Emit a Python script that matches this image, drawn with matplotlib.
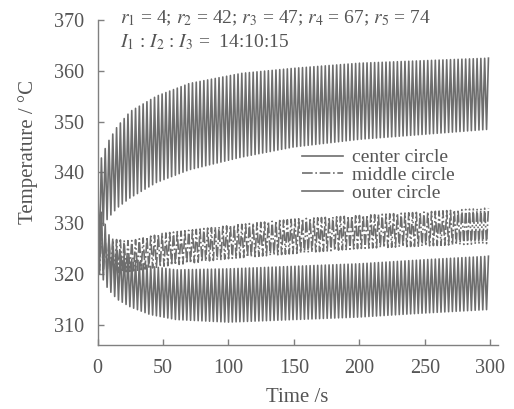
import numpy as np
import matplotlib
matplotlib.use("Agg")
import matplotlib.pyplot as plt

# ---- data (envelopes) ----
period = 2.9  # s, oscillation period

t_center = [0, 3, 8, 15, 25, 45, 70, 110, 150, 200, 250, 300]
center_upper = [338, 343, 346, 349, 352, 355, 357.5, 359.5, 360.5, 361.5, 362, 362.5]
center_lower = [321, 329, 331, 333, 335, 338, 340.5, 343, 345, 346.5, 347.5, 348.5]

t_middle = [0, 5, 25, 50, 100, 150, 200, 250, 300]
middle_upper = [334, 327, 326.5, 328, 329.5, 330.8, 331.5, 332.2, 333]
middle_lower = [320, 320, 320.5, 321.5, 323, 324, 325, 325.5, 326]

t_outer = [0, 3, 8, 15, 25, 40, 60, 100, 150, 200, 250, 300]
outer_upper = [336, 332, 328, 325, 323, 321.5, 320.8, 321, 321.5, 322, 322.8, 323.5]
outer_lower = [322, 319.5, 317, 315, 313.5, 312, 311, 310.5, 311, 311.5, 312.3, 313]

labels = ["center circle", "middle circle", "outer circle"]
xticks = [0, 50, 100, 150, 200, 250, 300]
yticks = [310, 320, 330, 340, 350, 360, 370]


def zigzag(t_env, up, lo):
    tk = np.arange(0, 300 + 1e-9, period / 2)
    u = np.interp(tk, t_env, up)
    l = np.interp(tk, t_env, lo)
    y = np.where(np.arange(len(tk)) % 2 == 0, u, l)
    return tk, y


plt.rcParams['font.family'] = ['Liberation Serif', 'DejaVu Serif']
plt.rcParams['mathtext.fontset'] = 'stix'

fig = plt.figure(figsize=(5.14, 4.09), dpi=100)
ax = fig.add_axes([97.6 / 514, 64 / 409, 400.4 / 514, 325 / 409])

lc = '#6e6e6e'
tc = '#555555'

x, y = zigzag(t_center, center_upper, center_lower)
ax.plot(x, y, color=lc, lw=1.2, ls='-', label=labels[0])
x, y = zigzag(t_middle, middle_upper, middle_lower)
ax.plot(x, y, color=lc, lw=1.2, ls='-.', label=labels[1])
x, y = zigzag(t_outer, outer_upper, outer_lower)
ax.plot(x, y, color=lc, lw=1.2, ls='-', label=labels[2])

ax.set_xlim(0, 306)
ax.set_ylim(306, 370)
ax.set_xticks(xticks)
ax.set_yticks(yticks)
for s in ['top', 'right']:
    ax.spines[s].set_visible(False)
for s in ['left', 'bottom']:
    ax.spines[s].set_color('#808080')
    ax.spines[s].set_linewidth(1.0)
ax.tick_params(direction='in', length=4, width=1, color='#808080',
               labelsize=14.5, labelcolor=tc, pad=10)

fig.text(28 / 514, 1 - 152 / 409, 'Temperature / °C', rotation=90,
         ha='center', va='center', fontsize=15, color=tc)
fig.text(297 / 514, 1 - 398 / 409, 'Time /s', ha='center', va='center',
         fontsize=15, color=tc)

fig.text(120 / 514, 1 - 18 / 409,
         r'$r_1$ = 4; $r_2$ = 42; $r_3$ = 47; $r_4$ = 67; $r_5$ = 74',
         ha='left', va='center', fontsize=14, color=tc)
fig.text(120 / 514, 1 - 42 / 409,
         r'$I_1$ : $I_2$ : $I_3$ =  14:10:15',
         ha='left', va='center', fontsize=14, color=tc)

leg = ax.legend(loc='upper left', bbox_to_anchor=(292 / 514, 1 - 139 / 409),
                bbox_transform=fig.transFigure, frameon=False, fontsize=14,
                handlelength=2.1, handletextpad=0.5, labelspacing=0.0,
                borderpad=0)
for txt in leg.get_texts():
    txt.set_color(tc)

fig.savefig('out.png', dpi=100)
